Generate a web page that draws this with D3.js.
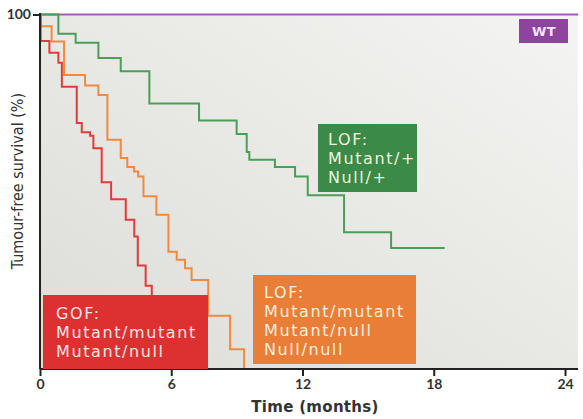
<!DOCTYPE html>
<html><head><meta charset="utf-8">
<script src="https://cdn.jsdelivr.net/npm/d3@7"></script>
<style>html,body{margin:0;padding:0;background:#fff;}svg{display:block;}</style>
</head><body>
<svg id="c" width="583" height="419"></svg>
<script>
// ---- data (months, tumour-free survival %) ----
const xTicks = [0, 6, 12, 18, 24];
const yTicks = [100];
const wtTime = [0, 24.6];
const wtSurv = [100, 100];
const lofHetTime = [0, 0.84, 1.63, 2.67, 3.69, 5.0, 7.27, 8.99, 9.45, 9.57, 10.74, 11.66, 12.24, 13.9, 16.05, 18.5];
const lofHetSurv = [100, 94.6, 92.0, 87.7, 84.0, 74.9, 70.1, 66.3, 61.2, 59.0, 57.0, 54.3, 49.0, 38.6, 34.1, 34.1];
const lofHomTime = [0, 0.03, 0.53, 1.1, 2.06, 2.67, 3.08, 3.69, 3.99, 4.30, 4.49, 4.73, 5.32, 5.87, 6.25, 6.63, 6.93, 7.69, 8.69, 9.33];
const lofHomSurv = [100, 96.7, 92.4, 82.9, 80.0, 77.3, 64.7, 59.5, 57.0, 55.7, 54.3, 48.7, 43.5, 33.1, 30.8, 28.4, 25.1, 15.0, 5.6, 0];
const gofTime = [0, 0.03, 0.43, 0.84, 1.0, 1.68, 1.91, 2.29, 2.44, 2.82, 3.25, 3.92, 4.31, 4.47, 4.83, 5.11, 6.75];
const gofSurv = [100, 92.5, 89.2, 86.4, 79.6, 69.4, 66.8, 65.8, 62.3, 52.7, 47.9, 42.1, 37.4, 29.2, 23.5, 19.5, 0];

const series = [
  {name: "WT", t: wtTime, s: wtSurv, color: "#a35cb3"},
  {name: "LOF het", t: lofHetTime, s: lofHetSurv, color: "#4a9e57"},
  {name: "LOF hom", t: lofHomTime, s: lofHomSurv, color: "#f08a3e"},
  {name: "GOF", t: gofTime, s: gofSurv, color: "#e23b3b"}
];

const svg = d3.select("#c");
const x = d3.scaleLinear().domain([0, 24]).range([40, 565]);
const y = d3.scaleLinear().domain([0, 100]).range([369, 14.5]);

// background gradient
const defs = svg.append("defs");
const g = defs.append("linearGradient").attr("id", "bg").attr("x1", 0).attr("y1", 1).attr("x2", 1).attr("y2", 0);
g.append("stop").attr("offset", "0%").attr("stop-color", "#dcddd8");
g.append("stop").attr("offset", "100%").attr("stop-color", "#f4f4f2");
svg.append("rect").attr("x", 40).attr("y", 14.5).attr("width", 538).attr("height", 354.5).attr("fill", "url(#bg)");

// curves
const line = d3.line().x(d => x(d[0])).y(d => y(d[1])).curve(d3.curveStepAfter);
series.forEach(se => {
  const pts = se.t.map((t, i) => [t, se.s[i]]);
  svg.append("path").attr("d", line(pts)).attr("fill", "none")
    .attr("stroke", se.color).attr("stroke-width", 2);
});

// axes
const fontAxis = "Lato, 'DejaVu Sans', sans-serif";
const xa = svg.append("g").attr("transform", "translate(0,369)")
  .call(d3.axisBottom(x).tickValues(xTicks).tickSize(7).tickSizeOuter(0).tickPadding(3));
xa.select(".domain").attr("d", "M40,0H578").attr("stroke", "#222").attr("stroke-width", 2);
xa.selectAll(".tick line").attr("stroke", "#222").attr("stroke-width", 2);
xa.selectAll(".tick text").attr("font-family", fontAxis).attr("font-size", 14).attr("font-weight", "bold").attr("fill", "#333");

const ya = svg.append("g").attr("transform", "translate(40,0)")
  .call(d3.axisLeft(y).tickValues(yTicks).tickSize(7).tickSizeOuter(0).tickPadding(2));
ya.select(".domain").attr("d", "M0,13V369").attr("stroke", "#222").attr("stroke-width", 2);
ya.selectAll(".tick line").attr("stroke", "#222").attr("stroke-width", 2);
ya.selectAll(".tick text").attr("font-family", fontAxis).attr("font-size", 14).attr("font-weight", "bold").attr("fill", "#333");

svg.append("text").attr("x", 315).attr("y", 412).attr("text-anchor", "middle")
  .attr("font-family", "'DejaVu Sans', sans-serif").attr("font-size", 15).attr("font-weight", "bold")
  .attr("letter-spacing", 0.3).attr("fill", "#333")
  .text("Time (months)");
svg.append("text").attr("transform", "translate(23,181) rotate(-90)").attr("text-anchor", "middle")
  .attr("font-family", "'DejaVu Sans Condensed', 'DejaVu Sans', sans-serif").attr("font-size", 16).attr("fill", "#333")
  .text("Tumour-free survival (%)");

// label boxes
const boxFont = "'DejaVu Sans', sans-serif";
function box(x0, y0, w, h, fill, lines, tx, ty, txtColor) {
  svg.append("rect").attr("x", x0).attr("y", y0).attr("width", w).attr("height", h).attr("fill", fill);
  const t = svg.append("text").attr("font-family", boxFont).attr("font-size", 16)
    .attr("letter-spacing", 1.6).attr("fill", txtColor);
  lines.forEach((l, i) => t.append("tspan").attr("x", tx).attr("y", ty + i * 19).text(l));
}
box(318, 124, 99, 68, "#3b8a47", ["LOF:", "Mutant/+", "Null/+"], 328, 145, "#eef3dc");
box(43, 295, 165, 74, "#dd3030", ["GOF:", "Mutant/mutant", "Mutant/null"], 56, 319, "#f9e4e4");
box(253, 275, 163, 89, "#e87e38", ["LOF:", "Mutant/mutant", "Mutant/null", "Null/null"], 264, 298, "#fbeede");

svg.append("rect").attr("x", 519).attr("y", 19).attr("width", 49).attr("height", 24).attr("fill", "#8e449f");
svg.append("text").attr("x", 544).attr("y", 36).attr("text-anchor", "middle")
  .attr("font-family", boxFont).attr("font-size", 13).attr("font-weight", "bold").attr("letter-spacing", 0.5)
  .attr("fill", "#f3e6f6").text("WT");
</script>
</body></html>
